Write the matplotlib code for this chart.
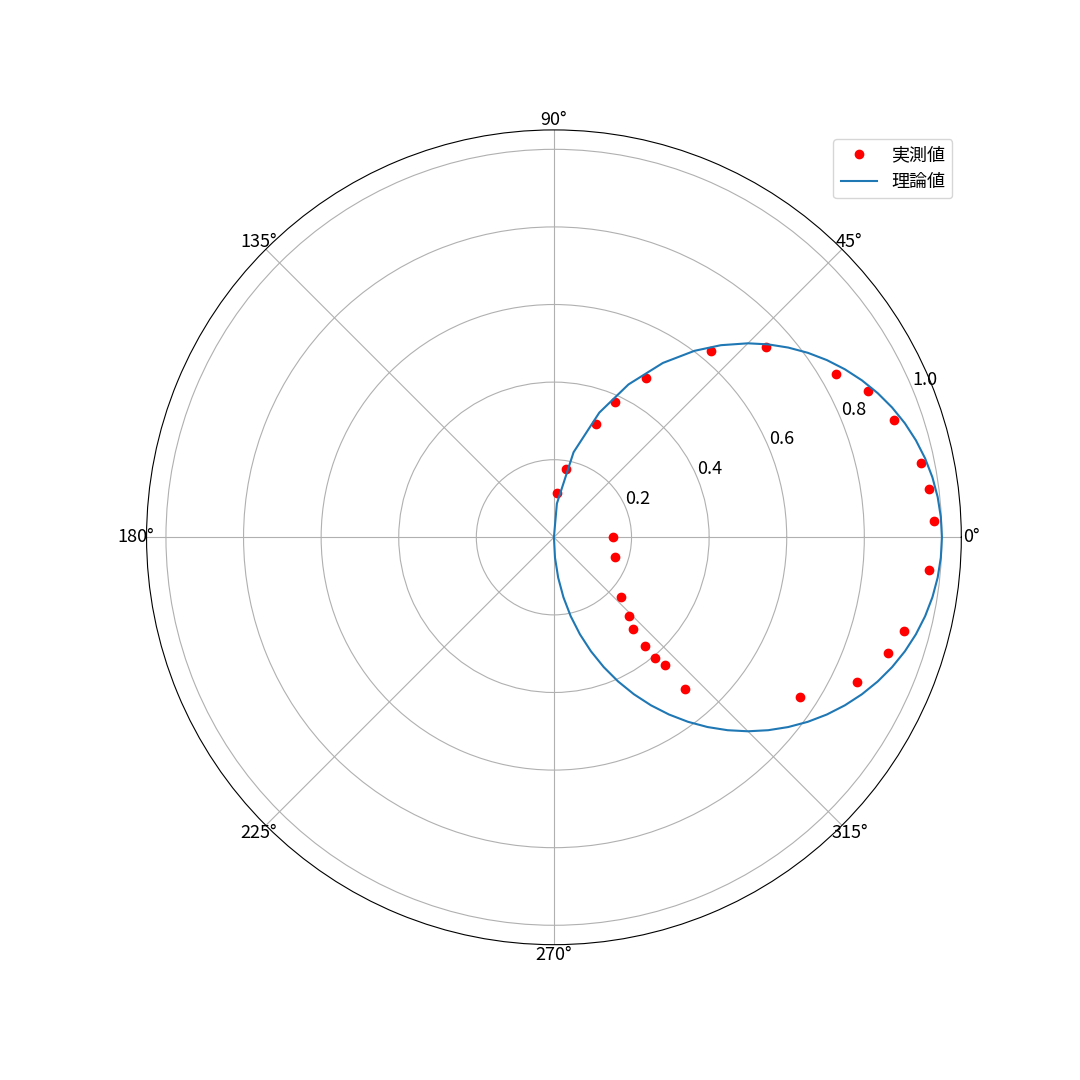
import matplotlib
matplotlib.use('Agg')
import matplotlib.pyplot as plt
import numpy as np

plt.rcParams['font.family'] = ['Noto Sans CJK JP', 'DejaVu Sans']
plt.rcParams['font.size'] = 13

# measured values (angle in degrees, radius)
meas_deg = [85.7, 80.0, 69.8, 65.8, 60.0, 49.9, 41.9, 30.0, 24.9, 19.0, 11.4, 7.4, 2.4,
            -5.0, -15.0, -19.1, -25.6, -33.0, -49.2, -49.0, -50.0, -50.0, -49.2, -46.4,
            -41.7, -18.1, 0.0]
meas_r = [0.114, 0.178, 0.312, 0.381, 0.475, 0.629, 0.733, 0.840, 0.893, 0.928, 0.966,
          0.975, 0.981, 0.971, 0.935, 0.912, 0.866, 0.757, 0.518, 0.437, 0.406, 0.366,
          0.313, 0.281, 0.232, 0.166, 0.153]

# theoretical values (coarser near the top, finer elsewhere)
theo_deg = [90, 85, 77, 70, 64, 58, 53, 49, 45, 42, 39, 36, 33, 30, 27, 24, 21, 18,
            15, 12, 9, 6, 3, 0, -3, -6, -9, -12, -15, -18, -21, -24, -27, -30, -33,
            -36, -39, -42, -45, -48, -51, -54, -57, -60, -63, -66, -69, -72, -75, -78,
            -81, -84, -87, -90]
theo_r = [0.0000, 0.0872, 0.2250, 0.3420, 0.4384, 0.5299, 0.6018, 0.6561, 0.7071,
          0.7431, 0.7771, 0.8090, 0.8387, 0.8660, 0.8910, 0.9135, 0.9336, 0.9511,
          0.9659, 0.9781, 0.9877, 0.9945, 0.9986, 1.0000, 0.9986, 0.9945, 0.9877,
          0.9781, 0.9659, 0.9511, 0.9336, 0.9135, 0.8910, 0.8660, 0.8387, 0.8090,
          0.7771, 0.7431, 0.7071, 0.6691, 0.6293, 0.5878, 0.5446, 0.5000, 0.4540,
          0.4067, 0.3584, 0.3090, 0.2588, 0.2079, 0.1564, 0.1045, 0.0523, 0.0000]

fig = plt.figure(figsize=(10.8, 10.8), dpi=100)
ax = fig.add_axes([0.1357, 0.1253, 0.7544, 0.7544], projection='polar')

ax.plot(np.radians(meas_deg), meas_r, 'ro', label='実測値')
ax.plot(np.radians(theo_deg), theo_r, label='理論値')
ax.set_rlim(0, 1.05)
ax.set_rticks([0.2, 0.4, 0.6, 0.8, 1.0])
ax.tick_params(axis='x', pad=-3)
ax.legend(loc='upper right')

fig.savefig('out.png', dpi=100)
